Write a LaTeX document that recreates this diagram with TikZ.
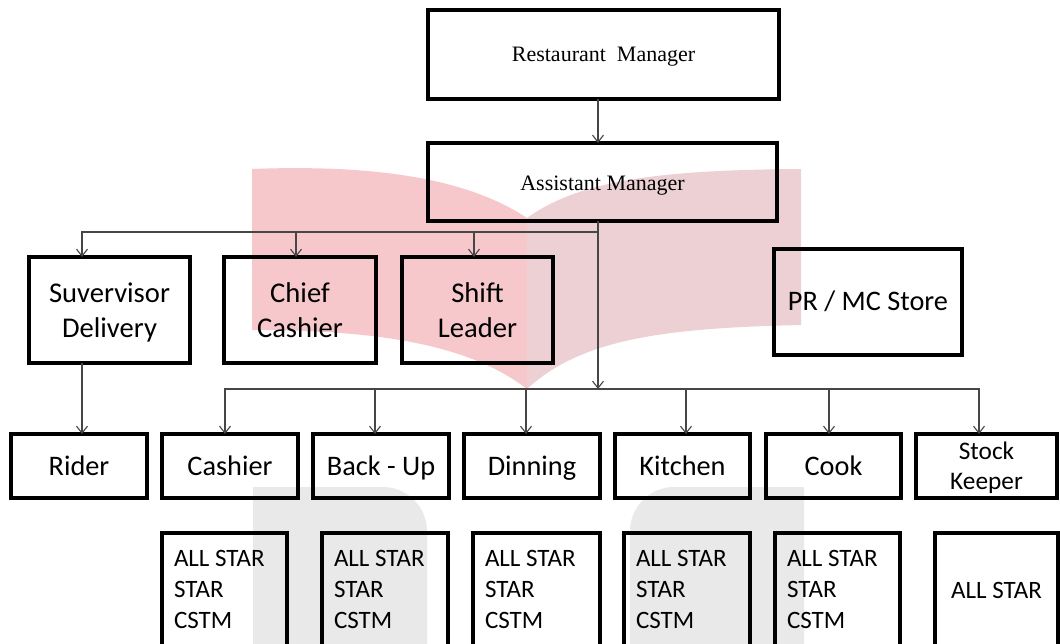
\documentclass[tikz,border=0pt]{standalone}
\usepackage{fontspec}
\setmainfont{Carlito}
\newfontfamily\timesfont{Liberation Serif}
\usetikzlibrary{arrows.meta}
\definecolor{wmred}{RGB}{246,200,203}
\definecolor{wmredb}{RGB}{236,208,211}
\definecolor{wmgrey}{RGB}{233,233,233}
\definecolor{conn}{RGB}{70,70,70}
\begin{document}
\begin{tikzpicture}[x=1pt,y=-1pt,
  box/.style={draw=black, line width=3.1pt, rectangle, inner sep=0pt, outer sep=0pt, align=center},
  big/.style={font=\fontsize{28.6}{35}\selectfont, text depth=0pt},
  bigone/.style={font=\fontsize{28.3}{35}\selectfont, text height=18pt, text depth=0pt},
  mid/.style={font=\fontsize{25.3}{30}\selectfont, text depth=0pt},
  serif/.style={font=\timesfont\fontsize{22}{26}\selectfont, text height=14.5pt, text depth=0pt},
  arr/.style={draw=conn, line width=1.1pt, -{Straight Barb[length=7pt,width=11pt]}},
  link/.style={draw=conn, line width=1.1pt},
  subtext/.style={font=\fontsize{25}{31}\selectfont, anchor=north west, inner sep=0pt, outer sep=0pt, align=left}]
\clip (0,0) rectangle (1060,644);
\fill[white] (0,0) rectangle (1060,644);
% watermark
\fill[wmred] (252,169) .. controls (380,164) and (470,180) .. (527,218) -- (527,389) .. controls (470,345) and (380,330) .. (252,330) -- cycle;
\fill[wmredb] (527,218) .. controls (580,180) and (660,170) .. (801,169) -- (801,325) .. controls (660,328) and (580,340) .. (527,389) -- cycle;
\fill[wmgrey] (253,660) -- (253,487) -- (383,487) .. controls (407,487) and (427,507) .. (427,531) -- (427,660) -- cycle;
\fill[wmgrey] (630,660) -- (630,531) .. controls (630,507) and (650,487) .. (674,487) -- (804,487) -- (804,660) -- cycle;
% top
\node[box, serif, minimum width=351pt, minimum height=89pt] (rm) at (603.5,54.5) {Restaurant\ \ Manager};
\node[box, serif, minimum width=349pt, minimum height=78pt] (am) at (602.5,182) {\raisebox{-1.5pt}{Assistant Manager}};
% row 2
\node[box, big, minimum width=161pt, minimum height=106pt] (sd) at (109.5,310) {Suvervisor\\Delivery};
\node[box, big, minimum width=152pt, minimum height=106pt] (cc) at (300,310) {Chief\\Cashier};
\node[box, big, minimum width=151pt, minimum height=106pt] (sl) at (477.5,310) {Shift\\Leader};
\node[box, bigone, minimum width=188pt, minimum height=106pt] (pr) at (868,302) {PR / MC Store};
% row 3
\node[box, bigone, minimum width=136pt, minimum height=64pt] (rider) at (79,466) {Rider};
\node[box, bigone, minimum width=136pt, minimum height=64pt] (cash) at (230,466) {Cashier};
\node[box, bigone, minimum width=136pt, minimum height=64pt] (back) at (381,466) {Back - Up};
\node[box, bigone, minimum width=136pt, minimum height=64pt] (din) at (532,466) {Dinning};
\node[box, bigone, minimum width=135pt, minimum height=64pt] (kit) at (682.5,466) {Kitchen};
\node[box, bigone, minimum width=135pt, minimum height=64pt] (cook) at (833.5,466) {Cook};
\node[box, mid, minimum width=141pt, minimum height=64pt] (stock) at (986.5,466) {Stock\\Keeper};
% row 4
\node[box, minimum width=125pt, minimum height=140pt, anchor=north] (s1) at (224.5,533) {};
\node[box, minimum width=126pt, minimum height=140pt, anchor=north] (s2) at (385,533) {};
\node[box, minimum width=127pt, minimum height=140pt, anchor=north] (s3) at (536.5,533) {};
\node[box, minimum width=126pt, minimum height=140pt, anchor=north] (s4) at (687,533) {};
\node[box, minimum width=125pt, minimum height=140pt, anchor=north] (s5) at (837.5,533) {};
\node[box, minimum width=123pt, minimum height=140pt, anchor=north] (s6) at (996.5,533) {};
\node[subtext] (t1) at (174,550) {ALL STAR\\STAR\\CSTM};
\node[subtext] (t2) at (334,550) {ALL STAR\\STAR\\CSTM};
\node[subtext] (t3) at (485,550) {ALL STAR\\STAR\\CSTM};
\node[subtext] (t4) at (636,550) {ALL STAR\\STAR\\CSTM};
\node[subtext] (t5) at (787,550) {ALL STAR\\STAR\\CSTM};
\node[font=\fontsize{25}{31}\selectfont, inner sep=0pt] (t6) at (996.5,590) {ALL STAR};
% connectors
\coordinate (j1) at (598,232);
\coordinate (j2) at (598,389);
\draw[arr] (rm.south -| j1) -- (am.north -| j1);
\draw[link] (am.south -| j1) -- (j1);
\draw[arr] (j1) -| ([xshift=-27.5pt]sd.north);
\draw[arr] (j1) -| ([xshift=-4pt]cc.north);
\draw[arr] (j1) -| ([xshift=-3.5pt]sl.north);
\draw[arr] (j1) -- (j2);
\draw[arr] (j2) -| ([xshift=-5pt]cash.north);
\draw[arr] (j2) -| ([xshift=-6pt]back.north);
\draw[arr] (j2) -| ([xshift=-6pt]din.north);
\draw[arr] (j2) -| ([xshift=3.5pt]kit.north);
\draw[arr] (j2) -| ([xshift=-4.5pt]cook.north);
\draw[arr] (j2) -| ([xshift=-7.5pt]stock.north);
\draw[arr] ([xshift=-27.5pt]sd.south) -- ([xshift=-27.5pt]sd.south |- rider.north);
\end{tikzpicture}
\end{document}
